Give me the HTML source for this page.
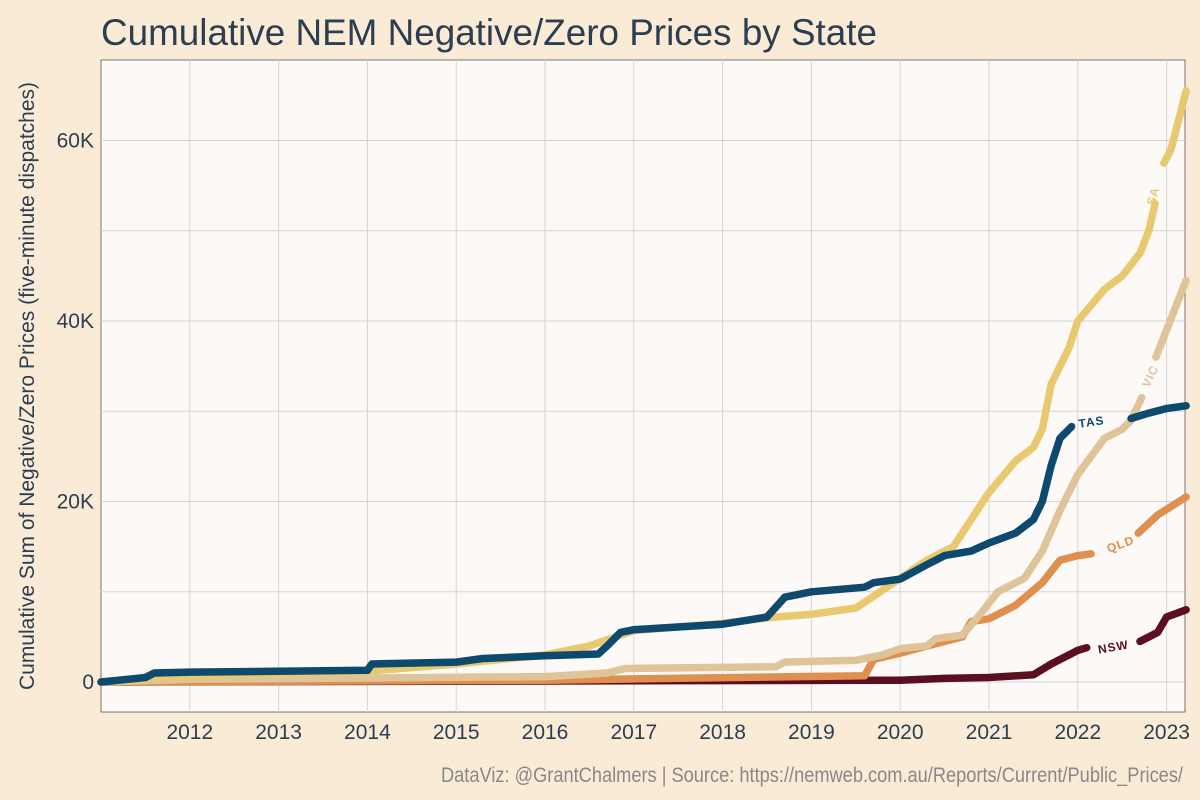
<!DOCTYPE html>
<html><head><meta charset="utf-8">
<style>
body{margin:0;background:#faebd7;}
svg{display:block;font-family:"Liberation Sans",sans-serif;}
</style></head>
<body>
<svg id="chart" width="1200" height="800">
<rect width="1200" height="800" fill="#faebd7"/>
<text x="101" y="45" font-size="37" textLength="776" lengthAdjust="spacingAndGlyphs" fill="#2c3e50">Cumulative NEM Negative/Zero Prices by State</text>
<rect x="101" y="60" width="1084" height="652" fill="#fdf9f7" stroke="#555" stroke-width="0.8"/>
<g id="grid"></g>
<g id="series"></g>
<g id="labels"></g>
<text transform="translate(34,386) rotate(-90)" text-anchor="middle" font-size="21" fill="#2c3e50">Cumulative Sum of Negative/Zero Prices (five-minute dispatches)</text>
<text x="441" y="782" textLength="742" lengthAdjust="spacingAndGlyphs" font-size="21" fill="#888" font-family="'Liberation Sans Narrow','Liberation Sans',sans-serif">DataViz: @GrantChalmers | Source: https://nemweb.com.au/Reports/Current/Public_Prices/</text>
</svg>
<script>
const xTicks=[2012,2013,2014,2015,2016,2017,2018,2019,2020,2021,2022,2023];
const yTicks=[0,20000,40000,60000];
const yTickLabels=["0","20K","40K","60K"];
const tasX=[2011,2011.5,2011.6,2012,2013,2014,2014.05,2015,2015.3,2016,2016.6,2016.7,2016.85,2017,2018,2018.5,2018.7,2019,2019.6,2019.7,2020,2020.3,2020.5,2020.8,2021,2021.3,2021.5,2021.6,2021.7,2021.8,2021.93];
const tasY=[0,500,1000,1100,1200,1300,2000,2200,2600,2900,3100,4000,5500,5800,6400,7200,9400,10000,10500,11000,11400,13000,14000,14500,15400,16500,18000,20000,24000,27000,28300];
const tasX2=[2022.6,2022.8,2023,2023.22];
const tasY2=[29200,29800,30300,30600];
const saX=[2011,2011.5,2012,2013,2014,2015,2016,2016.5,2017,2018,2018.6,2019,2019.5,2019.7,2020,2020.3,2020.6,2020.8,2021,2021.3,2021.5,2021.6,2021.7,2021.9,2022,2022.3,2022.5,2022.7,2022.8,2022.87];
const saY=[0,300,700,900,1200,2000,3000,4000,5700,6500,7200,7500,8200,9500,11500,13500,15000,18000,21000,24500,26000,28000,33000,37000,40000,43500,45000,47500,50000,53000];
const saX2=[2022.97,2023.05,2023.22];
const saY2=[57500,59000,65500];
const vicX=[2011,2012,2016,2016.7,2016.9,2018.6,2018.7,2019.5,2019.8,2020,2020.3,2020.4,2020.7,2020.9,2021.1,2021.4,2021.6,2021.8,2022,2022.3,2022.5,2022.6,2022.72];
const vicY=[0,300,600,1000,1500,1700,2200,2400,3000,3700,4000,4800,5200,7500,10000,11500,14500,19000,23000,27000,28000,29000,31500];
const vicX2=[2022.88,2023,2023.22];
const vicY2=[36000,39000,44500];
const qldX=[2011,2016,2019.6,2019.7,2020,2020.5,2020.7,2020.8,2021,2021.3,2021.6,2021.8,2022,2022.15];
const qldY=[0,200,700,2500,3200,4500,5000,6700,7000,8500,11000,13500,14000,14200];
const qldX2=[2022.68,2022.9,2023.22];
const qldY2=[16500,18500,20500];
const nswX=[2011,2020,2020.5,2021,2021.5,2021.7,2022,2022.1];
const nswY=[0,200,400,500,800,2000,3500,3800];
const nswX2=[2022.7,2022.9,2023,2023.22];
const nswY2=[4500,5500,7200,8000];

const ns="http://www.w3.org/2000/svg";
const X=v=>101+(v-2011)*88.8;
const Y=v=>682-v*0.009025;
const grid=document.getElementById('grid');
function mk(tag,attrs,parent){const e=document.createElementNS(ns,tag);for(const k in attrs)e.setAttribute(k,attrs[k]);parent.appendChild(e);return e;}
for(let v=0;v<=70000;v+=10000){if(Y(v)<60)break;
 const l=mk('line',{x1:101,x2:1185,y1:Y(v),y2:Y(v),stroke:'#d5d5d5','stroke-width':1},grid);
 
 }
xTicks.forEach(t=>{
 const l=mk('line',{x1:X(t),x2:X(t),y1:60,y2:712,stroke:'#d5d5d5','stroke-width':1},grid);
 
 });
xTicks.forEach(t=>{const tx=mk('text',{x:X(t),y:739,'text-anchor':'middle','font-size':21,fill:'#2c3e50'},grid);tx.textContent=t;
 
 });
yTicks.forEach((t,i)=>{const tx=mk('text',{x:94,y:Y(t)+7,'text-anchor':'end','font-size':21,fill:'#2c3e50'},grid);tx.textContent=yTickLabels[i];
 
 });
const S=document.getElementById('series');
function line(xs,ys,c,name){const d=xs.map((x,i)=>(i?'L':'M')+X(x).toFixed(1)+','+Y(ys[i]).toFixed(1)).join('');
 const p=mk('path',{d:d,fill:'none',stroke:c,'stroke-width':7.5,'stroke-linejoin':'round','stroke-linecap':'round'},S);
 
 }
line(nswX,nswY,'#5c0f1f','nsw-line');line(nswX2,nswY2,'#5c0f1f','nsw-line');
line(qldX,qldY,'#e0904e','qld-line');line(qldX2,qldY2,'#e0904e','qld-line');
line(vicX,vicY,'#dfc49a','vic-line');line(vicX2,vicY2,'#dfc49a','vic-line');
line(saX,saY,'#e8c96f','sa-line');line(saX2,saY2,'#e8c96f','sa-line');
line(tasX,tasY,'#0d4a6e','tas-line');line(tasX2,tasY2,'#0d4a6e','tas-line');
const L=document.getElementById('labels');
function lab(t,x,y,rot,c,name){const e=mk('text',{x:0,y:0,transform:`translate(${x},${y}) rotate(${rot})`,'text-anchor':'middle','font-size':12,'font-weight':'bold',fill:c,'letter-spacing':'1'},L);e.textContent=t;
 
 }
lab('SA',1157,197,-75,'#e8c96f','sa-label');
lab('VIC',1154,378,-65,'#dfc49a','vic-label');
lab('TAS',1092,426,-8,'#0d4a6e','tas-label');
lab('QLD',1122,548,-20,'#e0904e','qld-label');
lab('NSW',1114,651,-10,'#5c0f1f','nsw-label');
</script>
</body></html>
